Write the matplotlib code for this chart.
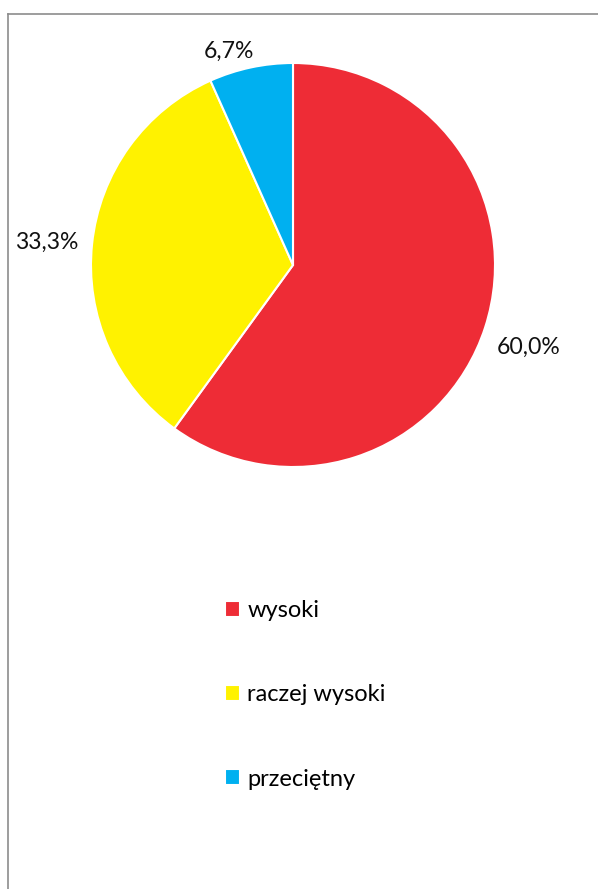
import matplotlib
matplotlib.use("Agg")
import matplotlib.pyplot as plt
from matplotlib.lines import Line2D

categories = ["wysoki", "raczej wysoki", "przeciętny"]
values = [60.0, 33.3, 6.7]
labels = ["60,0%", "33,3%", "6,7%"]
colors = ["#EE2C36", "#FFF200", "#00B0F0"]

plt.rcParams['font.family'] = ['Lato', 'DejaVu Sans']

W, H = 598, 889
fig = plt.figure(figsize=(W / 100, H / 100), dpi=100)
fig.patch.set_facecolor("white")

cx, cy, r = 293, 265, 202
aw = 2.5 * r
ax = fig.add_axes([(cx - aw / 2) / W, (H - cy - aw / 2) / H, aw / W, aw / H])
wedges, texts = ax.pie(values, labels=labels, colors=colors, startangle=90,
                       counterclock=False, labeldistance=1.07,
                       wedgeprops=dict(edgecolor="white", linewidth=1.5),
                       textprops=dict(fontsize=16.6, color="#111111"))
# nudge labels slightly as in the reference
x0, y0 = texts[0].get_position()
texts[0].set_position((x0 - 0.01, y0 - 0.075))
x2, y2 = texts[2].get_position()
texts[2].set_position((x2 + 0.03, y2 + 0.01))
ax.set_xlim(-1.25, 1.25)
ax.set_ylim(-1.25, 1.25)
ax.set_aspect("equal")

leg = fig.legend(wedges, categories, loc="upper left",
                 bbox_to_anchor=(225 / W, 1 - 600 / H), frameon=False,
                 fontsize=17, handlelength=0.65, handleheight=0.65,
                 handletextpad=0.3, labelspacing=2.68, borderpad=0,
                 borderaxespad=0)
for h in leg.legend_handles:
    h.set_edgecolor("white")

# frame lines (top and left)
fig.add_artist(Line2D([7.5 / W, 7.5 / W], [0, 1 - 13.5 / H], color="#8c8c8c", lw=1.2,
                      transform=fig.transFigure))
fig.add_artist(Line2D([7.5 / W, 1], [1 - 13.5 / H, 1 - 13.5 / H], color="#8c8c8c", lw=1.2,
                      transform=fig.transFigure))

fig.savefig("out.png", dpi=100, facecolor="white")
